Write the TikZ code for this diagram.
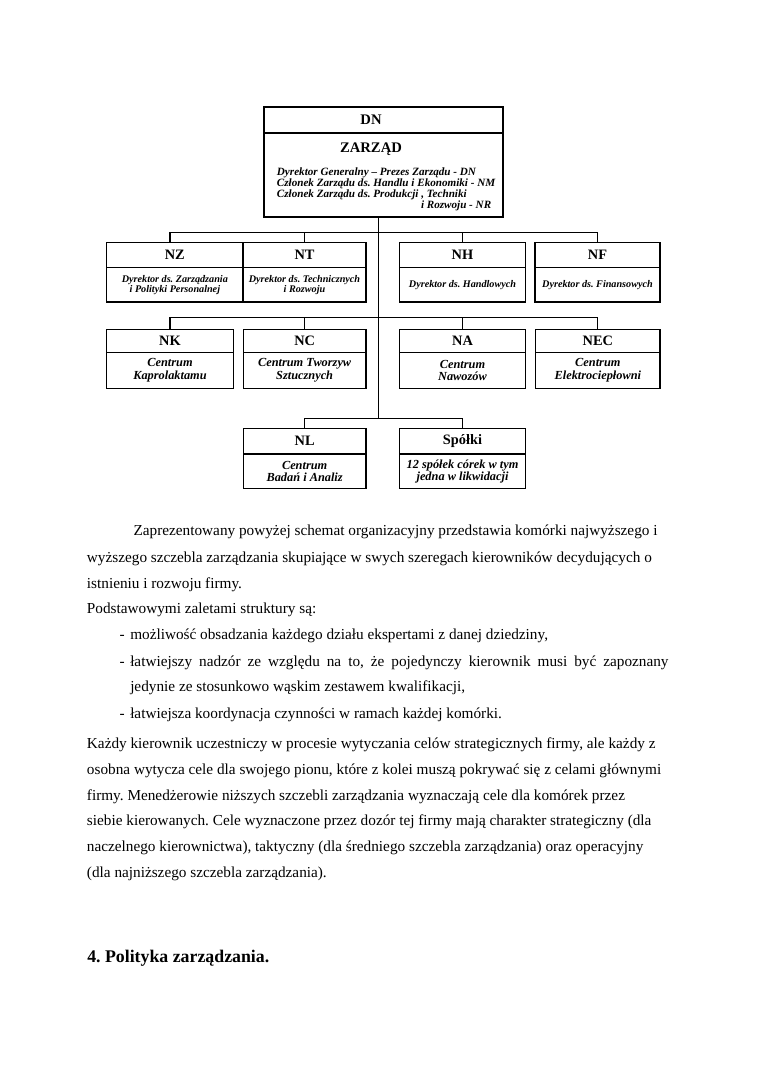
\documentclass[tikz,border=0pt]{standalone}
\usepackage{fontspec}
\setmainfont{Liberation Serif}
\usetikzlibrary{positioning}
\frenchspacing

\begin{document}
\begin{tikzpicture}[
    x=0.276316mm, y=-0.276316mm,
    headbox/.style={rectangle, draw, line width=1.2pt, outer sep=0pt, inner sep=0pt, minimum width=34.6mm, minimum height=6.9mm, font=\fontsize{11.3}{13}\selectfont\bfseries},
    descbox/.style={rectangle, draw, line width=1.2pt, outer sep=0pt, inner sep=0pt, minimum width=34.6mm, minimum height=9.5mm, align=center, font=\fontsize{9.7}{9.6}\selectfont\bfseries\itshape},
    descsmall/.style={font=\fontsize{8}{7.8}\selectfont\bfseries\itshape},
    title/.style={inner sep=0pt, font=\fontsize{11.5}{13}\selectfont\bfseries},
    members/.style={anchor=base west, inner sep=0pt, align=left, font=\fontsize{8.75}{8.5}\selectfont\bfseries\itshape},
    link/.style={line width=1pt},
    textline/.style={anchor=base west, inner sep=0pt, font=\fontsize{12}{14}\selectfont}
]
\fill[white] (0,0) rectangle (760,1075);
\useasboundingbox (0,0) rectangle (760,1075);

% Zarzad
\node[headbox, minimum width=66.04mm, minimum height=7.18mm] (dn) at (383.5,120) {};
\node[descbox, minimum width=66.04mm, minimum height=23.21mm, below=0pt of dn] (board) {};
\node[title] (dntitle) at (371,120) {DN};
\node[title] (boardtitle) at (371,149) {ZARZĄD};
% base of the block = baseline of its last line
\node[members] (members) at (276.7,208.2) {Dyrektor Generalny – Prezes Zarządu - DN\\
    Członek Zarządu ds. Handlu i Ekonomiki - NM\\
    Członek Zarządu ds. Produkcji , Techniki\\
    \makebox[59.2mm][r]{i Rozwoju - NR}};

% Dyrektorzy
\node[headbox, minimum width=37.66mm] (nz) at (174.85,255.1) {NZ};
\node[descbox, descsmall, minimum width=37.66mm, below=0pt of nz] (nzbody) {Dyrektor ds. Zarządzania\\i Polityki Personalnej};
\node[headbox, minimum width=33.99mm] (nt) at (304.5,255.1) {NT};
\node[descbox, descsmall, minimum width=33.99mm, below=0pt of nt] (ntbody) {Dyrektor ds. Technicznych\\i Rozwoju};
\node[headbox, minimum width=34.93mm] (nh) at (462.5,255.1) {NH};
\node[descbox, descsmall, minimum width=34.93mm, below=0pt of nh] (nhbody) {Dyrektor ds. Handlowych};
\node[headbox, minimum width=34.54mm] (nf) at (597.5,255.1) {NF};
\node[descbox, descsmall, minimum width=34.54mm, below=0pt of nf] (nfbody) {Dyrektor ds. Finansowych};

% Centra
\node[headbox, minimum width=34.98mm, minimum height=6.36mm] (nk) at (170,340.8) {NK};
\node[descbox, minimum width=34.98mm, minimum height=9.95mm, below=0pt of nk] (nkbody) {Centrum\\Kaprolaktamu};
\node[headbox, minimum width=33.9mm, minimum height=6.36mm] (nc) at (304.65,340.8) {NC};
\node[descbox, minimum width=33.9mm, minimum height=9.95mm, below=0pt of nc] (ncbody) {Centrum Tworzyw\\Sztucznych};
\node[headbox, minimum width=34.93mm, minimum height=6.36mm] (na) at (462.5,340.8) {NA};
\node[descbox, minimum width=34.93mm, minimum height=9.95mm, below=0pt of na] (nabody) {Centrum\\Nawozów};
\node[headbox, minimum width=34.35mm, minimum height=6.36mm] (nec) at (597.85,340.8) {NEC};
\node[descbox, minimum width=34.35mm, minimum height=9.95mm, below=0pt of nec] (necbody) {Centrum\\Elektrociepłowni};

% Badania i spolki
\node[headbox, minimum width=33.9mm, minimum height=7.1mm] (nl) at (304.65,441.15) {NL};
\node[descbox, minimum width=33.9mm, below=0pt of nl] (nlbody) {Centrum\\Badań i Analiz};
\node[headbox, minimum width=34.93mm, minimum height=7.1mm] (spolki) at (462.5,441.15) {Spółki};
\node[descbox, minimum width=34.93mm, below=0pt of spolki] (spolkibody) {12 spółek córek w tym\\jedna w likwidacji};

% Lines
\coordinate (trunk) at (378.3,418.3);
\coordinate (bar2) at (378.3,232.5);
\coordinate (bar3) at (378.3,317.5);
\draw[link] (board.south -| trunk) -- (trunk);
\draw[link] (nk.north |- nz.north) -- (nk.north |- bar2) -- (nf.north |- bar2) -- (nf.north);
\draw[link] (nt.north) -- (nt.north |- bar2);
\draw[link] (nh.north) -- (nh.north |- bar2);
\draw[link] (nk.north) -- (nk.north |- bar3) -- (nec.north |- bar3) -- (nec.north);
\draw[link] (nc.north) -- (nc.north |- bar3);
\draw[link] (na.north) -- (na.north |- bar3);
\draw[link] (nl.north) -- (nl.north |- trunk) -- (spolki.north |- trunk) -- (spolki.north);

% Text
\node[textline] (l1) at (133.3,535) {Zaprezentowany powyżej schemat organizacyjny przedstawia komórki najwyższego i};
\node[textline] (l2) at (86.7,562) {wyższego szczebla zarządzania skupiające w swych szeregach kierowników decydujących o};
\node[textline] (l3) at (86.7,588) {istnieniu i rozwoju firmy.};
\node[textline] (l4) at (86.7,613) {Podstawowymi zaletami struktury są:};
\node[textline] (d1) at (119.3,639) {-};
\node[textline] (l5) at (130,639) {możliwość obsadzania każdego działu ekspertami z danej dziedziny,};
\node[textline] (d2) at (119.3,666) {-};
\node[textline] (l6) at (130,666) {\makebox[148.75mm][s]{łatwiejszy nadzór ze względu na to, że pojedynczy kierownik musi być zapoznany}};
\node[textline] (l7) at (130,691.5) {jedynie ze stosunkowo wąskim zestawem kwalifikacji,};
\node[textline] (d3) at (119.3,718) {-};
\node[textline] (l8) at (130,718) {łatwiejsza koordynacja czynności w ramach każdej komórki.};
\node[textline] (l9) at (86.7,748) {Każdy kierownik uczestniczy w procesie wytyczania celów strategicznych firmy, ale każdy z};
\node[textline] (l10) at (86.7,774) {osobna wytycza cele dla swojego pionu, które z kolei muszą pokrywać się z celami głównymi};
\node[textline] (l11) at (86.7,800) {firmy. Menedżerowie niższych szczebli zarządzania wyznaczają cele dla komórek przez};
\node[textline] (l12) at (86.7,825.5) {siebie kierowanych. Cele wyznaczone przez dozór tej firmy mają charakter strategiczny (dla};
\node[textline] (l13) at (86.7,851.5) {naczelnego kierownictwa), taktyczny (dla średniego szczebla zarządzania) oraz operacyjny};
\node[textline] (l14) at (86.7,877.5) {(dla najniższego szczebla zarządzania).};

% Heading
\node[textline, font=\fontsize{14}{16}\selectfont\bfseries] (heading) at (87,962) {4. Polityka zarządzania.};

\end{tikzpicture}
\end{document}
